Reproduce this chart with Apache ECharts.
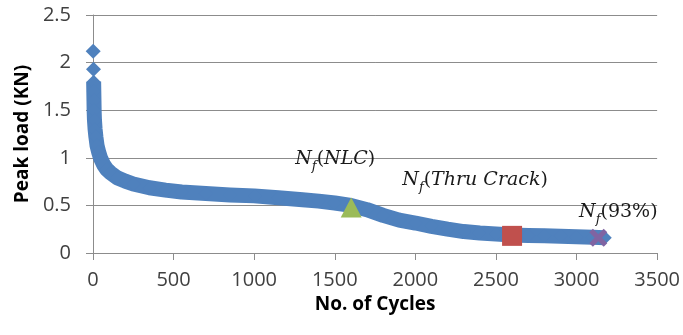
<!DOCTYPE html>
<html>
<head>
<meta charset="utf-8">
<script src="https://cdn.jsdelivr.net/npm/echarts@6/dist/echarts.min.js"></script>
<style>
  html, body { margin: 0; padding: 0; background: #fff; }
  #chart { width: 683px; height: 335px; }
</style>
</head>
<body>
<div id="chart"></div>
<script>
// 前两个离散的点（曲线顶端）
const headCycles = [1, 3];
const headLoad = [2.12, 1.93];

// 主曲线 (cycles, peak load)
const cycles = [4, 5, 6, 7, 9, 13, 18, 25, 35, 46, 65, 85, 110, 150, 200, 250, 350, 450, 550,
  700, 850, 1000, 1150, 1300, 1400, 1500, 1600, 1700, 1800, 1900, 2000, 2100, 2200, 2300,
  2400, 2500, 2600, 2700, 2800, 2900, 3000, 3100, 3175];
const load = [1.80, 1.70, 1.60, 1.50, 1.40, 1.30, 1.22, 1.13, 1.06, 1.00, 0.93, 0.88, 0.84, 0.79,
  0.755, 0.725, 0.685, 0.66, 0.64, 0.625, 0.61, 0.60, 0.58, 0.56, 0.545, 0.525, 0.50, 0.455,
  0.395, 0.345, 0.315, 0.28, 0.25, 0.225, 0.21, 0.20, 0.19, 0.185, 0.18, 0.175, 0.17, 0.165, 0.16];

// 标记点
const nlcPoint = [1602, 0.478];
const crackPoint = [2600, 0.18];
const pct93Point = [3135, 0.16];

// 刻度
const xTicks = { min: 0, max: 3500, interval: 500 };
const yTicks = { min: 0, max: 2.5, interval: 0.5 };

const blue = "#4F81BD";
const gridGray = "#8c8c8c";

const zip = (xs, ys) => xs.map((x, i) => [x, ys[i]]);

// 公式样式 N_f(...)
const rich = {
  n: { fontFamily: "DejaVu Serif", fontStyle: "italic", fontSize: 19, color: "#1a1a1a", lineHeight: 28, verticalAlign: "middle" },
  f: { fontFamily: "DejaVu Serif", fontStyle: "italic", fontSize: 13, color: "#1a1a1a", lineHeight: 14, verticalAlign: "bottom" },
  u: { fontFamily: "DejaVu Serif", fontSize: 19, color: "#1a1a1a", lineHeight: 28, verticalAlign: "middle" },
};

const chart = echarts.init(document.getElementById("chart"));
const option = {
  animation: false,
  backgroundColor: "#fff",
  grid: { left: 93, right: 24, top: 15, bottom: 82 },
  xAxis: {
    type: "value",
    min: xTicks.min,
    max: xTicks.max,
    interval: xTicks.interval,
    name: "No. of Cycles",
    nameLocation: "middle",
    nameGap: 37,
    nameTextStyle: { fontFamily: "Open Sans", fontWeight: "bold", fontSize: 19, color: "#000" },
    axisLine: { show: true, lineStyle: { color: gridGray, width: 1 } },
    axisTick: { show: true, length: 7, lineStyle: { color: gridGray } },
    axisLabel: { fontFamily: "Open Sans", fontSize: 20, color: "#404040", margin: 17, formatter: (v) => String(v) },
    splitLine: { show: false },
  },
  yAxis: {
    type: "value",
    min: yTicks.min,
    max: yTicks.max,
    interval: yTicks.interval,
    name: "Peak load (KN)",
    nameLocation: "middle",
    nameGap: 58,
    nameTextStyle: { fontFamily: "Open Sans", fontWeight: "bold", fontSize: 19, color: "#000" },
    axisLine: { show: true, lineStyle: { color: gridGray, width: 1 } },
    axisTick: { show: true, length: 7, lineStyle: { color: gridGray } },
    axisLabel: { fontFamily: "Open Sans", fontSize: 20, color: "#404040", margin: 22, formatter: (v) => String(v) },
    splitLine: { show: true, lineStyle: { color: gridGray, width: 1 } },
  },
  series: [
    {
      name: "Peak load",
      type: "line",
      data: zip(cycles, load),
      symbol: "diamond",
      symbolSize: 14,
      showAllSymbol: true,
      itemStyle: { color: blue, opacity: 1 },
      lineStyle: { color: blue, width: 15, cap: "butt", join: "round" },
      z: 2,
    },
    {
      name: "head",
      type: "scatter",
      data: zip(headCycles, headLoad),
      symbol: "diamond",
      symbolSize: 15,
      itemStyle: { color: blue, opacity: 1 },
      z: 2,
    },
    {
      name: "NLC",
      type: "scatter",
      data: [nlcPoint],
      symbol: "triangle",
      symbolSize: [21, 20],
      itemStyle: { color: "#9BBB59", opacity: 1 },
      label: {
        show: true,
        position: "top",
        distance: 24,
        offset: [-16, 0],
        formatter: "{n|N}{f|f}{u|(}{n|NLC}{u|)}",
        rich: rich,
      },
      z: 3,
    },
    {
      name: "Thru Crack",
      type: "scatter",
      data: [crackPoint],
      symbol: "rect",
      symbolSize: 20,
      itemStyle: { color: "#C0504D", opacity: 1 },
      label: {
        show: true,
        position: "top",
        distance: 32,
        offset: [-37, 0],
        formatter: "{n|N}{f|f}{u|(}{n|Thru Crack}{u|)}",
        rich: rich,
      },
      z: 3,
    },
    {
      name: "93%",
      type: "scatter",
      data: [pct93Point],
      symbol: "path://M0,2L2,0L5,3L8,0L10,2L7,5L10,8L8,10L5,7L2,10L0,8L3,5Z",
      symbolSize: 18,
      itemStyle: { color: "#8064A2", opacity: 1 },
      label: {
        show: true,
        position: "top",
        distance: 3,
        offset: [20, 0],
        formatter: "{n|N}{f|f}{u|(93%)}",
        rich: rich,
      },
      z: 3,
    },
  ],
};
chart.setOption(option);
window.addEventListener("resize", () => {
  chart.resize();
});
</script>
</body>
</html>
